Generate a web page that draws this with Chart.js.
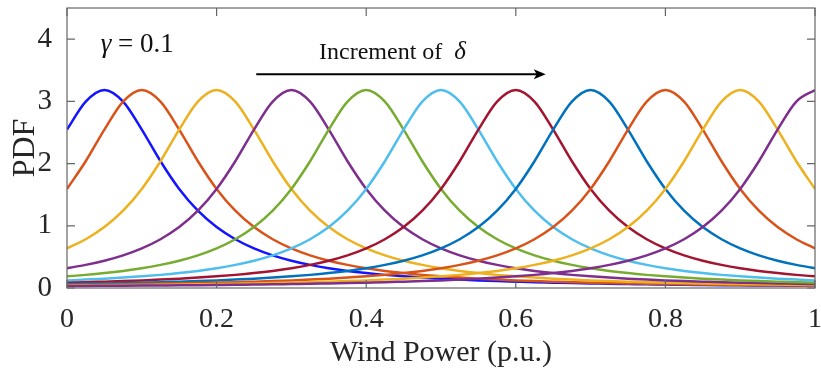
<!DOCTYPE html>
<html>
<head>
<meta charset="utf-8">
<script src="https://cdn.jsdelivr.net/npm/chart.js@4.4.1/dist/chart.umd.min.js"></script>
<style>
  html, body { margin: 0; padding: 0; background: #fff; }
  #wrap { width: 821px; height: 381px; }
</style>
</head>
<body>
<div id="wrap"><canvas id="pdfChart" width="821" height="381"></canvas></div>
<script>
// wind power grid (p.u.)
var windPower = [0, 0.025, 0.05, 0.075, 0.1, 0.125, 0.15, 0.175, 0.2, 0.225, 0.25, 0.275, 0.3, 0.325, 0.35, 0.375, 0.4, 0.425, 0.45, 0.475, 0.5,
                 0.525, 0.55, 0.575, 0.6, 0.625, 0.65, 0.675, 0.7, 0.725, 0.75, 0.775, 0.8, 0.825, 0.85, 0.875, 0.9, 0.925, 0.95, 0.975, 1];

// location parameter of each curve
var deltas = [0.05, 0.1, 0.2, 0.3, 0.4, 0.5, 0.6, 0.7, 0.8, 0.9, 1.0];

// PDF values, gamma = 0.1
var pdfDelta005 = [2.546, 2.996, 3.183, 2.996, 2.546, 2.037, 1.592, 1.242, 0.979, 0.784, 0.637, 0.525, 0.439, 0.372, 0.318, 0.275, 0.240, 0.211, 0.187, 0.167, 0.150,
                   0.135, 0.122, 0.111, 0.102, 0.093, 0.086, 0.079, 0.074, 0.068, 0.064, 0.059, 0.056, 0.052, 0.049, 0.046, 0.043, 0.041, 0.039, 0.037, 0.035];
var pdfDelta01 = [1.592, 2.037, 2.546, 2.996, 3.183, 2.996, 2.546, 2.037, 1.592, 1.242, 0.979, 0.784, 0.637, 0.525, 0.439, 0.372, 0.318, 0.275, 0.240, 0.211, 0.187,
                  0.167, 0.150, 0.135, 0.122, 0.111, 0.102, 0.093, 0.086, 0.079, 0.074, 0.068, 0.064, 0.059, 0.056, 0.052, 0.049, 0.046, 0.043, 0.041, 0.039];
var pdfDelta02 = [0.637, 0.784, 0.979, 1.242, 1.592, 2.037, 2.546, 2.996, 3.183, 2.996, 2.546, 2.037, 1.592, 1.242, 0.979, 0.784, 0.637, 0.525, 0.439, 0.372, 0.318,
                  0.275, 0.240, 0.211, 0.187, 0.167, 0.150, 0.135, 0.122, 0.111, 0.102, 0.093, 0.086, 0.079, 0.074, 0.068, 0.064, 0.059, 0.056, 0.052, 0.049];
var pdfDelta03 = [0.318, 0.372, 0.439, 0.525, 0.637, 0.784, 0.979, 1.242, 1.592, 2.037, 2.546, 2.996, 3.183, 2.996, 2.546, 2.037, 1.592, 1.242, 0.979, 0.784, 0.637,
                  0.525, 0.439, 0.372, 0.318, 0.275, 0.240, 0.211, 0.187, 0.167, 0.150, 0.135, 0.122, 0.111, 0.102, 0.093, 0.086, 0.079, 0.074, 0.068, 0.064];
var pdfDelta04 = [0.187, 0.211, 0.240, 0.275, 0.318, 0.372, 0.439, 0.525, 0.637, 0.784, 0.979, 1.242, 1.592, 2.037, 2.546, 2.996, 3.183, 2.996, 2.546, 2.037, 1.592,
                  1.242, 0.979, 0.784, 0.637, 0.525, 0.439, 0.372, 0.318, 0.275, 0.240, 0.211, 0.187, 0.167, 0.150, 0.135, 0.122, 0.111, 0.102, 0.093, 0.086];
var pdfDelta05 = [0.122, 0.135, 0.150, 0.167, 0.187, 0.211, 0.240, 0.275, 0.318, 0.372, 0.439, 0.525, 0.637, 0.784, 0.979, 1.242, 1.592, 2.037, 2.546, 2.996, 3.183,
                  2.996, 2.546, 2.037, 1.592, 1.242, 0.979, 0.784, 0.637, 0.525, 0.439, 0.372, 0.318, 0.275, 0.240, 0.211, 0.187, 0.167, 0.150, 0.135, 0.122];
var pdfDelta06 = [0.086, 0.093, 0.102, 0.111, 0.122, 0.135, 0.150, 0.167, 0.187, 0.211, 0.240, 0.275, 0.318, 0.372, 0.439, 0.525, 0.637, 0.784, 0.979, 1.242, 1.592,
                  2.037, 2.546, 2.996, 3.183, 2.996, 2.546, 2.037, 1.592, 1.242, 0.979, 0.784, 0.637, 0.525, 0.439, 0.372, 0.318, 0.275, 0.240, 0.211, 0.187];
var pdfDelta07 = [0.064, 0.068, 0.074, 0.079, 0.086, 0.093, 0.102, 0.111, 0.122, 0.135, 0.150, 0.167, 0.187, 0.211, 0.240, 0.275, 0.318, 0.372, 0.439, 0.525, 0.637,
                  0.784, 0.979, 1.242, 1.592, 2.037, 2.546, 2.996, 3.183, 2.996, 2.546, 2.037, 1.592, 1.242, 0.979, 0.784, 0.637, 0.525, 0.439, 0.372, 0.318];
var pdfDelta08 = [0.049, 0.052, 0.056, 0.059, 0.064, 0.068, 0.074, 0.079, 0.086, 0.093, 0.102, 0.111, 0.122, 0.135, 0.150, 0.167, 0.187, 0.211, 0.240, 0.275, 0.318,
                  0.372, 0.439, 0.525, 0.637, 0.784, 0.979, 1.242, 1.592, 2.037, 2.546, 2.996, 3.183, 2.996, 2.546, 2.037, 1.592, 1.242, 0.979, 0.784, 0.637];
var pdfDelta09 = [0.039, 0.041, 0.043, 0.046, 0.049, 0.052, 0.056, 0.059, 0.064, 0.068, 0.074, 0.079, 0.086, 0.093, 0.102, 0.111, 0.122, 0.135, 0.150, 0.167, 0.187,
                  0.211, 0.240, 0.275, 0.318, 0.372, 0.439, 0.525, 0.637, 0.784, 0.979, 1.242, 1.592, 2.037, 2.546, 2.996, 3.183, 2.996, 2.546, 2.037, 1.592];
var pdfDelta10 = [0.032, 0.033, 0.035, 0.037, 0.039, 0.041, 0.043, 0.046, 0.049, 0.052, 0.056, 0.059, 0.064, 0.068, 0.074, 0.079, 0.086, 0.093, 0.102, 0.111, 0.122,
                  0.135, 0.150, 0.167, 0.187, 0.211, 0.240, 0.275, 0.318, 0.372, 0.439, 0.525, 0.637, 0.784, 0.979, 1.242, 1.592, 2.037, 2.546, 2.996, 3.183];

var pdfSeries = [pdfDelta005, pdfDelta01, pdfDelta02, pdfDelta03, pdfDelta04, pdfDelta05,
                 pdfDelta06, pdfDelta07, pdfDelta08, pdfDelta09, pdfDelta10];

var lineColors = ['#1414ff', '#d95319', '#edb120', '#7e2f8e', '#77ac30', '#4dbeee',
                  '#a2142f', '#0072bd', '#d95319', '#edb120', '#7e2f8e'];

var xTicks = [0, 0.2, 0.4, 0.6, 0.8, 1];
var yTicks = [0, 1, 2, 3, 4];

var axisColor = '#666666';
var textColor = '#262626';
var serif = '"Liberation Serif", "Times New Roman", serif';

var datasets = pdfSeries.map(function (values, i) {
    return {
        label: 'delta = ' + deltas[i],
        data: values.map(function (v, j) { return { x: windPower[j], y: v }; }),
        borderColor: lineColors[i],
        borderWidth: 2.5,
        pointRadius: 0,
        fill: false,
        cubicInterpolationMode: 'monotone',
        order: pdfSeries.length - i
    };
});

// box around the axes with inward tick marks, plus the text annotations
var matlabAxes = {
    id: 'matlabAxes',
    afterDatasetsDraw: function (chart) {
        var ctx = chart.ctx;
        var a = chart.chartArea;
        var xs = chart.scales.x;
        var ys = chart.scales.y;
        var tick = 8;

        ctx.save();
        ctx.strokeStyle = axisColor;
        ctx.lineWidth = 1.2;
        ctx.strokeRect(a.left, a.top, a.right - a.left, a.bottom - a.top);

        ctx.beginPath();
        xTicks.forEach(function (v) {
            var px = xs.getPixelForValue(v);
            ctx.moveTo(px, a.bottom); ctx.lineTo(px, a.bottom - tick);
            ctx.moveTo(px, a.top); ctx.lineTo(px, a.top + tick);
        });
        yTicks.forEach(function (v) {
            var py = ys.getPixelForValue(v);
            ctx.moveTo(a.left, py); ctx.lineTo(a.left + tick, py);
            ctx.moveTo(a.right, py); ctx.lineTo(a.right - tick, py);
        });
        ctx.stroke();

        // gamma label
        ctx.fillStyle = '#111';
        ctx.textBaseline = 'alphabetic';
        var gx = xs.getPixelForValue(0.045);
        var gy = ys.getPixelForValue(3.8);
        ctx.font = 'italic 27px ' + serif;
        ctx.fillText('\u03b3', gx, gy);
        var gw = ctx.measureText('\u03b3').width;
        ctx.font = '27px ' + serif;
        ctx.fillText(' = 0.1', gx + gw, gy);

        // increment arrow
        var tx = xs.getPixelForValue(0.337);
        var ty = ys.getPixelForValue(3.68);
        ctx.font = '24px ' + serif;
        ctx.fillText('Increment of ', tx, ty);
        var iw = ctx.measureText('Increment of  ').width;
        ctx.font = 'italic 25px ' + serif;
        ctx.fillText('\u03b4', tx + iw, ty);

        var ax0 = xs.getPixelForValue(0.253);
        var ax1 = xs.getPixelForValue(0.64);
        var ay = ys.getPixelForValue(3.435);
        ctx.strokeStyle = '#000';
        ctx.lineWidth = 2;
        ctx.beginPath();
        ctx.moveTo(ax0, ay); ctx.lineTo(ax1 - 8, ay);
        ctx.stroke();
        ctx.fillStyle = '#000';
        ctx.beginPath();
        ctx.moveTo(ax1, ay);
        ctx.lineTo(ax1 - 12, ay - 5);
        ctx.lineTo(ax1 - 9, ay);
        ctx.lineTo(ax1 - 12, ay + 5);
        ctx.closePath();
        ctx.fill();
        ctx.restore();
    }
};

var canvas = document.getElementById('pdfChart');
var chart = new Chart(canvas.getContext('2d'), {
    type: 'line',
    data: { datasets: datasets },
    plugins: [matlabAxes],
    options: {
        responsive: false,
        animation: false,
        layout: { padding: { left: 0, top: 8, right: 6, bottom: 0 } },
        plugins: { legend: { display: false }, tooltip: { enabled: false } },
        scales: {
            x: {
                type: 'linear',
                min: 0,
                max: 1,
                afterBuildTicks: function (scale) {
                    scale.ticks = xTicks.map(function (v) { return { value: v }; });
                },
                afterFit: function (scale) {
                    scale.height = 93;
                    scale.paddingLeft = 0;
                    scale.paddingRight = 0;
                },
                grid: { display: false, drawTicks: false },
                border: { display: false },
                ticks: {
                    padding: 15,
                    color: textColor,
                    font: { family: serif, size: 28 },
                    maxRotation: 0,
                    callback: function (v) { return String(v); }
                },
                title: {
                    display: true,
                    text: 'Wind Power (p.u.)',
                    color: textColor,
                    font: { family: serif, size: 30 },
                    padding: { top: 0, bottom: 10 }
                }
            },
            y: {
                type: 'linear',
                min: 0,
                max: 4.5,
                afterBuildTicks: function (scale) {
                    scale.ticks = yTicks.map(function (v) { return { value: v }; });
                },
                afterFit: function (scale) {
                    scale.width = 67;
                    scale.paddingTop = 0;
                    scale.paddingBottom = 0;
                },
                grid: { display: false, drawTicks: false },
                border: { display: false },
                ticks: {
                    padding: 15,
                    color: textColor,
                    font: { family: serif, size: 29 },
                    callback: function (v) { return String(v); }
                },
                title: {
                    display: true,
                    text: 'PDF',
                    color: textColor,
                    font: { family: serif, size: 32 },
                    padding: { top: 6, bottom: 0 }
                }
            }
        }
    }
});
</script>
</body>
</html>
